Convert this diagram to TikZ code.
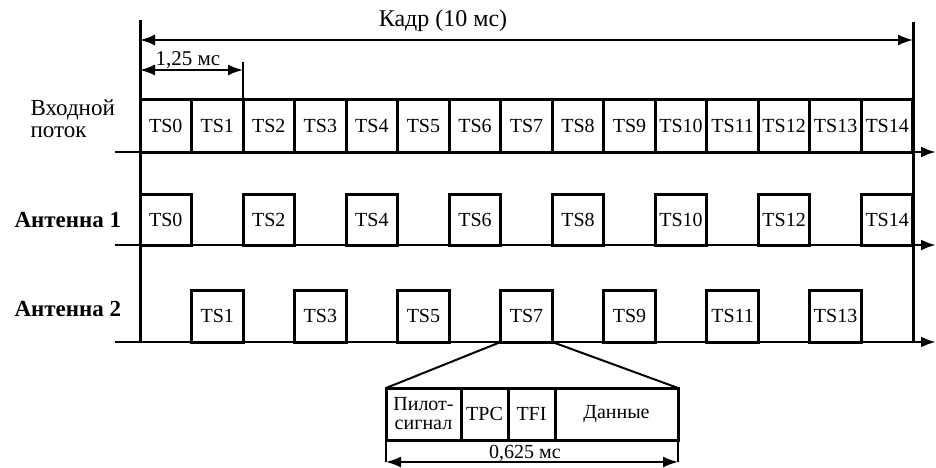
\documentclass[tikz,border=0pt]{standalone}
\usepackage{fontspec}
\setmainfont{Liberation Serif}
\usetikzlibrary{arrows.meta}

\tikzset{
	slot/.style={draw, shape=rectangle, line width=3pt, anchor=south west, outer sep=0pt, minimum width=51.53pt, inner sep=0pt, font=\fontsize{20}{20}\selectfont},
	field/.style={draw, shape=rectangle, line width=3pt, anchor=south west, outer sep=0pt, minimum height=52pt, inner sep=1pt, align=center, font=\fontsize{20}{19}\selectfont},
	axis/.style={line width=2.8pt, -{Latex[length=15pt,width=11pt]}},
	span/.style={line width=2pt, {Latex[length=15pt,width=11pt]}-{Latex[length=15pt,width=11pt]}},
	rowlabel/.style={anchor=west, align=left, font=\fontsize{23}{22}\selectfont}
}

\begin{document}
\begin{tikzpicture}[x=1pt, y=-1pt]
	\useasboundingbox (0,0) rectangle (936,468);
	% Frame borders and time spans:
	\coordinate (leftT) at (140,20);
	\coordinate (leftB) at (140,342);
	\coordinate (rightT) at (913,22);
	\coordinate (rightB) at (913,342);
	\draw[line width=3pt] (leftT) -- (leftB);
	\draw[line width=3pt] (rightT) -- (rightB);
	\coordinate (kadrL) at (140,40);
	\coordinate (kadrR) at (913,40);
	\draw[span] (kadrL) -- (kadrR);
	\node[font=\fontsize{24}{24}\selectfont] (kadr) at (443,21){Кадр (10 мс)};
	% Input stream:
	\foreach \i in {0,...,14}
		\node[slot, minimum height=52pt] (in\i) at ({140+\i*51.53},152){TS\i};
	\coordinate (inL) at (115,152);
	\coordinate (inR) at (936,152);
	\draw[axis] (inL) -- (inR);
	\node[rowlabel] (inlabel) at (27,119){Входной\\поток};
	\coordinate (tsL) at (140,70);
	\coordinate (tsR) at (in1.north east |- tsL);
	\coordinate (tsT) at ([yshift=8pt]tsR);
	\draw[span] (tsL) -- (tsR);
	\draw[line width=2pt] (tsT) -- (in1.north east);
	\node[font=\fontsize{21}{21}\selectfont] (tslen) at (188,60){1,25 мс};
	% Antenna 1 (even slots):
	\foreach \i in {0,2,...,14}
		\node[slot, minimum height=51pt] (a\i) at ({140+\i*51.53},245){TS\i};
	\coordinate (aL) at (115,245);
	\coordinate (aR) at (936,245);
	\draw[axis] (aL) -- (aR);
	\node[rowlabel, font=\fontsize{23}{23}\selectfont\bfseries] (alabel) at (11,220){Антенна 1};
	% Antenna 2 (odd slots):
	\foreach \i in {1,3,...,13}
		\node[slot, minimum height=52pt] (b\i) at ({140+\i*51.53},342){TS\i};
	\coordinate (bL) at (115,342);
	\coordinate (bR) at (936,342);
	\draw[axis] (bL) -- (bR);
	\node[rowlabel, font=\fontsize{23}{23}\selectfont\bfseries] (blabel) at (11,309){Антенна 2};
	% Slot structure:
	\node[field, minimum width=75pt] (pilot) at (386,440){Пилот-\\сигнал};
	\node[field, minimum width=47pt] (tpc) at (pilot.south east){TPC};
	\node[field, minimum width=47pt] (tfi) at (tpc.south east){TFI};
	\node[field, minimum width=123pt] (data) at (tfi.south east){Данные};
	\draw[line width=2pt] (b7.south west) -- (pilot.north west);
	\draw[line width=2pt] (b7.south east) -- (data.north east);
	\coordinate (durL) at (pilot.south west |- 0,462);
	\coordinate (durR) at (data.south east |- 0,462);
	\draw[line width=2pt] (pilot.south west) -- (durL);
	\draw[line width=2pt] (data.south east) -- (durR);
	\draw[span] (durL) -- (durR);
	\node[font=\fontsize{20}{20}\selectfont, inner sep=0pt] (durtext) at (525,453){0,625 мс};
\end{tikzpicture}
\end{document}
